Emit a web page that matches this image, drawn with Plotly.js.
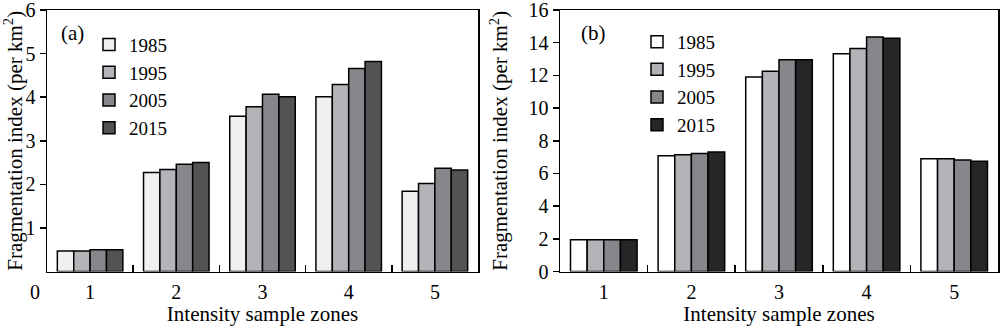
<!DOCTYPE html>
<html>
<head>
<meta charset="utf-8">
<script src="https://cdn.plot.ly/plotly-3.0.1.min.js"></script>
<style>html,body{margin:0;padding:0;background:#fff;}#chart{width:1000px;height:326px;}</style>
</head>
<body>
<div id="chart"></div>
<script>
// Categories and series
const zones = ['1', '2', '3', '4', '5'];
const years = ['1985', '1995', '2005', '2015'];

// Panel (a) values
const a1985 = [0.47, 2.27, 3.56, 4.01, 1.84];
const a1995 = [0.47, 2.34, 3.78, 4.29, 2.02];
const a2005 = [0.50, 2.46, 4.07, 4.66, 2.37];
const a2015 = [0.50, 2.50, 4.01, 4.82, 2.33];

// Panel (b) values
const b1985 = [1.95, 7.08, 11.90, 13.32, 6.90];
const b1995 = [1.95, 7.15, 12.25, 13.65, 6.90];
const b2005 = [1.95, 7.22, 12.95, 14.35, 6.82];
const b2015 = [1.95, 7.32, 12.95, 14.28, 6.75];

// Tick labels
const aTicks = [1, 2, 3, 4, 5, 6];
const bTicks = [0, 2, 4, 6, 8, 10, 12, 14, 16];

const aColors = ['#f0f0f0', '#b4b3b8', '#87868b', '#545254'];
const bColors = ['#ffffff', '#b3b2b7', '#87868b', '#252628'];

const FONT = '"Liberation Serif", "Times New Roman", serif';
const aData = [a1985, a1995, a2005, a2015];
const bData = [b1985, b1995, b2005, b2015];

const traces = [];
years.forEach((yr, i) => {
  traces.push({
    type: 'bar', x: zones, y: aData[i], name: yr,
    xaxis: 'x', yaxis: 'y', legend: 'legend',
    marker: {color: aColors[i], line: {color: '#000', width: 1.5}}
  });
});
years.forEach((yr, i) => {
  traces.push({
    type: 'bar', x: zones, y: bData[i], name: yr,
    xaxis: 'x2', yaxis: 'y2', legend: 'legend2',
    marker: {color: bColors[i], line: {color: '#000', width: 1.5}}
  });
});

const xCommon = {
  type: 'category', showline: true, mirror: true, linecolor: '#000', linewidth: 1.5,
  ticks: 'inside', tickson: 'boundaries', ticklen: 7, tickcolor: '#000', tickwidth: 1.5,
  showgrid: false, zeroline: false, ticklabeloverflow: 'allow', ticklabelstandoff: 2,
  tickfont: {family: FONT, size: 20, color: '#000'},
  title: {text: 'Intensity sample zones', font: {family: FONT, size: 21, color: '#000'}, standoff: 1}
};
const yTitle = {text: 'Fragmentation index (per km<sup>2</sup>)', font: {family: FONT, size: 21, color: '#000'}};

const layout = {
  width: 1000, height: 326,
  margin: {l: 0, r: 0, t: 0, b: 0},
  paper_bgcolor: '#fff', plot_bgcolor: '#fff',
  barmode: 'group', bargap: 0.24, bargroupgap: 0,
  font: {family: FONT, color: '#000'},
  xaxis: Object.assign({}, xCommon, {domain: [0.047, 0.478], anchor: 'y'}),
  xaxis2: Object.assign({}, xCommon, {domain: [0.560, 0.998], anchor: 'y2'}),
  yaxis: {
    domain: [0.167, 0.9693], anchor: 'x', range: [0, 6], tickvals: aTicks,
    showline: true, mirror: true, linecolor: '#000', linewidth: 1.5,
    ticks: 'outside', ticklen: 6, tickcolor: '#000', tickwidth: 1.5,
    showgrid: false, zeroline: false, ticklabeloverflow: 'allow',
    tickfont: {family: FONT, size: 20, color: '#000'},
    title: yTitle
  },
  yaxis2: {
    domain: [0.167, 0.9693], anchor: 'x2', range: [0, 16], tickvals: bTicks,
    showline: true, mirror: true, linecolor: '#000', linewidth: 1.5,
    ticks: 'outside', ticklen: 6, tickcolor: '#000', tickwidth: 1.5,
    showgrid: false, zeroline: false, ticklabeloverflow: 'allow',
    tickfont: {family: FONT, size: 20, color: '#000'},
    title: yTitle
  },
  legend: {
    x: 0.089, y: 0.921, xanchor: 'left', yanchor: 'top',
    bgcolor: 'rgba(0,0,0,0)', font: {family: FONT, size: 19, color: '#000'},
    tracegroupgap: 0, itemwidth: 30
  },
  legend2: {
    x: 0.637, y: 0.93, xanchor: 'left', yanchor: 'top',
    bgcolor: 'rgba(0,0,0,0)', font: {family: FONT, size: 19, color: '#000'},
    tracegroupgap: 0, itemwidth: 30
  },
  annotations: [
    {text: '(a)', xref: 'paper', yref: 'paper', x: 0.059, y: 1 - 33/326, xanchor: 'left', yanchor: 'middle', showarrow: false, font: {family: FONT, size: 21, color: '#000'}},
    {text: '(b)', xref: 'paper', yref: 'paper', x: 0.579, y: 1 - 33/326, xanchor: 'left', yanchor: 'middle', showarrow: false, font: {family: FONT, size: 21, color: '#000'}},
    {text: '0', xref: 'paper', yref: 'paper', x: 0.035, y: 1 - 292/326, xanchor: 'center', yanchor: 'middle', showarrow: false, font: {family: FONT, size: 20, color: '#000'}}
  ]
};

Plotly.newPlot('chart', traces, layout, {displayModeBar: false, staticPlot: true});
</script>
</body>
</html>
